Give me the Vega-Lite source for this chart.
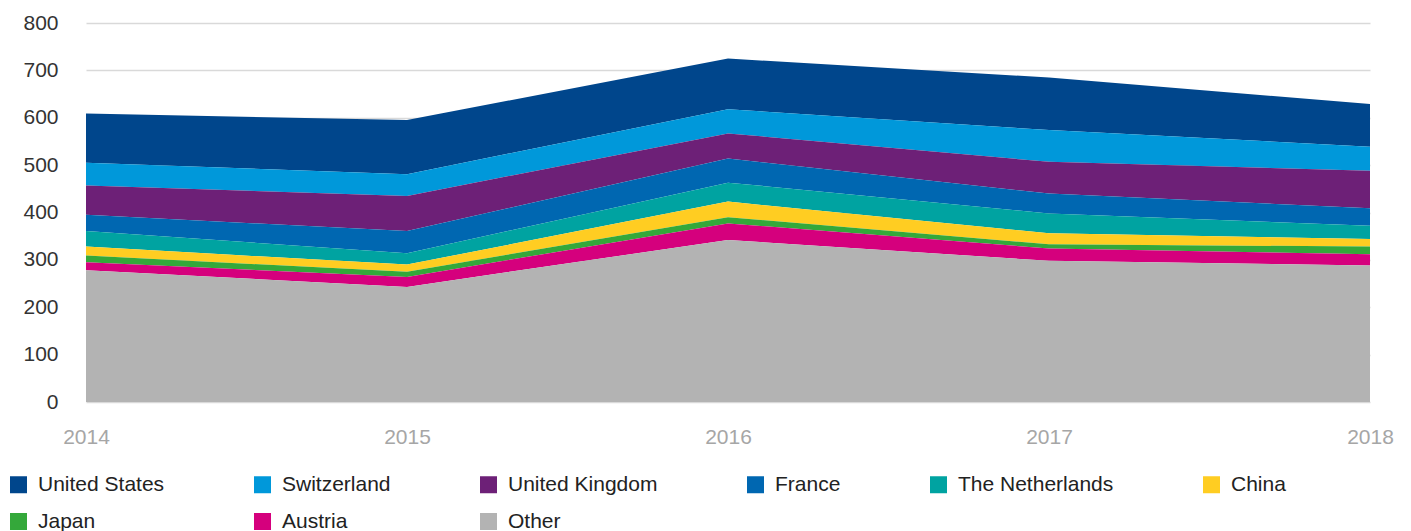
{
  "$schema": "https://vega.github.io/schema/vega-lite/v6.json",
  "width": 1284,
  "height": 379,
  "autosize": {"type": "none"},
  "padding": {"left": 86, "top": 23, "right": 41, "bottom": 129},
  "background": "white",
  "config": {
    "font": "Liberation Sans",
    "view": {"stroke": null}
  },
  "data": {
    "values": [
      {"year": 2014, "country": "United States", "value": 104},
      {"year": 2014, "country": "Switzerland", "value": 48},
      {"year": 2014, "country": "United Kingdom", "value": 62},
      {"year": 2014, "country": "France", "value": 34},
      {"year": 2014, "country": "The Netherlands", "value": 33},
      {"year": 2014, "country": "China", "value": 19},
      {"year": 2014, "country": "Japan", "value": 14},
      {"year": 2014, "country": "Austria", "value": 17},
      {"year": 2014, "country": "Other", "value": 278},
      {"year": 2015, "country": "United States", "value": 114},
      {"year": 2015, "country": "Switzerland", "value": 46},
      {"year": 2015, "country": "United Kingdom", "value": 74},
      {"year": 2015, "country": "France", "value": 47},
      {"year": 2015, "country": "The Netherlands", "value": 24},
      {"year": 2015, "country": "China", "value": 15},
      {"year": 2015, "country": "Japan", "value": 11},
      {"year": 2015, "country": "Austria", "value": 21},
      {"year": 2015, "country": "Other", "value": 243},
      {"year": 2016, "country": "United States", "value": 107},
      {"year": 2016, "country": "Switzerland", "value": 51},
      {"year": 2016, "country": "United Kingdom", "value": 53},
      {"year": 2016, "country": "France", "value": 51},
      {"year": 2016, "country": "The Netherlands", "value": 40},
      {"year": 2016, "country": "China", "value": 33},
      {"year": 2016, "country": "Japan", "value": 13},
      {"year": 2016, "country": "Austria", "value": 35},
      {"year": 2016, "country": "Other", "value": 342},
      {"year": 2017, "country": "United States", "value": 111},
      {"year": 2017, "country": "Switzerland", "value": 67},
      {"year": 2017, "country": "United Kingdom", "value": 67},
      {"year": 2017, "country": "France", "value": 42},
      {"year": 2017, "country": "The Netherlands", "value": 42},
      {"year": 2017, "country": "China", "value": 23},
      {"year": 2017, "country": "Japan", "value": 9},
      {"year": 2017, "country": "Austria", "value": 26},
      {"year": 2017, "country": "Other", "value": 298},
      {"year": 2018, "country": "United States", "value": 90},
      {"year": 2018, "country": "Switzerland", "value": 51},
      {"year": 2018, "country": "United Kingdom", "value": 79},
      {"year": 2018, "country": "France", "value": 37},
      {"year": 2018, "country": "The Netherlands", "value": 28},
      {"year": 2018, "country": "China", "value": 16},
      {"year": 2018, "country": "Japan", "value": 16},
      {"year": 2018, "country": "Austria", "value": 24},
      {"year": 2018, "country": "Other", "value": 288}
    ]
  },
  "transform": [
    {"calculate": "indexof(['United States','Switzerland','United Kingdom','France','The Netherlands','China','Japan','Austria','Other'], datum.country)", "as": "k"}
  ],
  "mark": {"type": "area", "interpolate": "linear"},
  "encoding": {
    "x": {
      "field": "year",
      "type": "quantitative",
      "scale": {"domain": [2014, 2018], "nice": false, "zero": false},
      "axis": {
        "title": null,
        "values": [2014, 2015, 2016, 2017, 2018],
        "format": "d",
        "grid": false,
        "domain": false,
        "ticks": false,
        "labelFontSize": 21,
        "labelColor": "#a6a6a6",
        "labelPadding": 24,
        "labelFlush": false
      }
    },
    "y": {
      "field": "value",
      "type": "quantitative",
      "stack": "zero",
      "scale": {"domain": [0, 800], "nice": false},
      "axis": {
        "title": null,
        "values": [0, 100, 200, 300, 400, 500, 600, 700, 800],
        "domain": false,
        "ticks": false,
        "grid": true,
        "gridColor": "#d9d9d9",
        "gridWidth": 1.5,
        "labelFontSize": 21,
        "labelColor": "#333333",
        "labelPadding": 28
      }
    },
    "color": {
      "field": "country",
      "type": "nominal",
      "sort": ["United States", "Switzerland", "United Kingdom", "France", "The Netherlands", "China", "Japan", "Austria", "Other"],
      "scale": {
        "domain": ["United States", "Switzerland", "United Kingdom", "France", "The Netherlands", "China", "Japan", "Austria", "Other"],
        "range": ["#00468C", "#0098DA", "#6D2077", "#0067B1", "#00A3A1", "#FFCD22", "#34A83A", "#D5007D", "#B3B3B3"]
      },
      "legend": {
        "title": null,
        "orient": "none",
        "legendX": -78,
        "legendY": 451,
        "direction": "horizontal",
        "columns": 6,
        "gridAlign": "each",
        "columnPadding": 87,
        "rowPadding": 15,
        "symbolType": "square",
        "symbolSize": 289,
        "symbolStrokeWidth": 0,
        "symbolOpacity": 1,
        "labelFontSize": 21,
        "labelColor": "#222222",
        "labelOffset": 9,
        "labelLimit": 300
      }
    },
    "order": {"field": "k", "type": "quantitative", "sort": "descending"}
  }
}
